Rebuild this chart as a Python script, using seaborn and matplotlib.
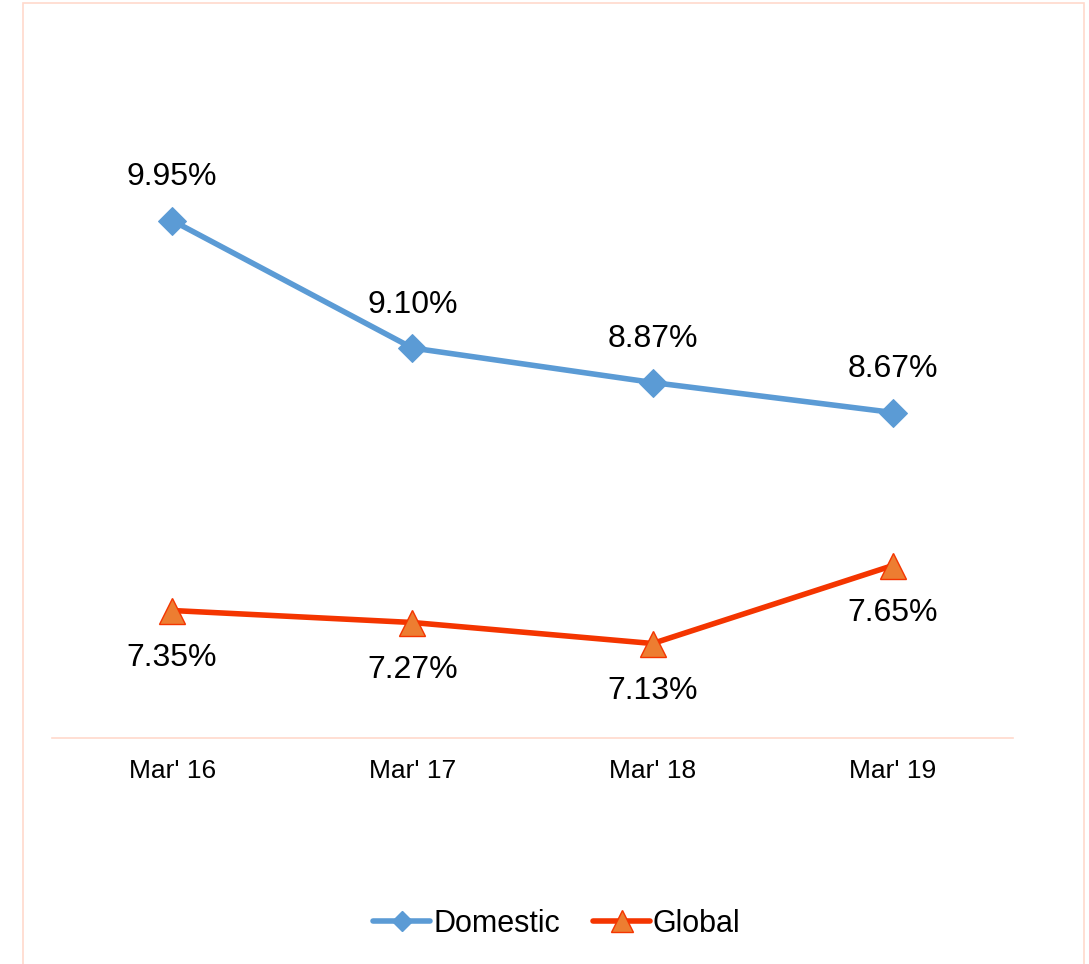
import matplotlib
matplotlib.use("Agg")
import matplotlib.pyplot as plt
import matplotlib.patches as mpatches
from matplotlib.lines import Line2D
import seaborn as sns
import pandas as pd

categories = ["Mar' 16", "Mar' 17", "Mar' 18", "Mar' 19"]
domestic = [9.95, 9.10, 8.87, 8.67]
global_ = [7.35, 7.27, 7.13, 7.65]
series_names = ["Domestic", "Global"]

df = pd.DataFrame({
    "period": categories * 2,
    "value": domestic + global_,
    "series": [series_names[0]] * 4 + [series_names[1]] * 4,
})

sns.set_theme(style="white")
plt.rcParams['font.family'] = ['Liberation Sans', 'DejaVu Sans']

fig = plt.figure(figsize=(10.89, 9.64), dpi=100)
ax = fig.add_axes([52/1089, 1-738/964, (1013-52)/1089, 675/964])

dom = df[df.series == "Domestic"]
glo = df[df.series == "Global"]
sns.lineplot(data=dom, x="period", y="value", ax=ax, color="#5B9BD5", linewidth=4.0,
             marker="D", markersize=14, markeredgecolor="#5B9BD5", sort=False)
sns.lineplot(data=glo, x="period", y="value", ax=ax, color="#F43500", linewidth=4.0,
             marker="^", markersize=19, markerfacecolor="#ED7D31", markeredgecolor="#F43500",
             markeredgewidth=1.0, sort=False)

ax.set_xlim(-0.5, 3.5)
ax.set_ylim(6.5, 11.0)
ax.set_yticks([])
ax.set_xlabel("")
ax.set_ylabel("")
for s in ["top", "right", "left"]:
    ax.spines[s].set_visible(False)
ax.spines["bottom"].set_color("#FFD9CC")
ax.spines["bottom"].set_linewidth(1.2)
ax.tick_params(axis="x", length=0, labelsize=19, pad=15, colors="black")
ax.set_facecolor("none")

for i, v in enumerate(domestic):
    ax.annotate(f"{v:.2f}%", (i, v), xytext=(0, 31), textcoords="offset points",
                ha="center", va="center", fontsize=23, color="black")
for i, v in enumerate(global_):
    ax.annotate(f"{v:.2f}%", (i, v), xytext=(0, -34), textcoords="offset points",
                ha="center", va="center", fontsize=23, color="black")

handles = [
    Line2D([], [], color="#5B9BD5", linewidth=4.0, marker="D", markersize=10,
           markeredgecolor="#5B9BD5"),
    Line2D([], [], color="#F43500", linewidth=4.0, marker="^", markersize=16,
           markerfacecolor="#ED7D31", markeredgecolor="#F43500", markeredgewidth=1.0),
]
leg = fig.legend(handles, series_names, loc="center", bbox_to_anchor=(557/1089, 1-924/964), ncol=2,
                 frameon=False, fontsize=22, handlelength=1.85, handletextpad=0.1, columnspacing=1.1)
for t in leg.get_texts():
    t.set_color("black")

border = mpatches.Rectangle((23/1089, -0.01), (1084-23)/1089, 1-3/964+0.01,
                            transform=fig.transFigure, fill=False, edgecolor="#FFD9CC",
                            linewidth=1.2, clip_on=False)
fig.patches.append(border)

fig.savefig("out.png", dpi=100)
